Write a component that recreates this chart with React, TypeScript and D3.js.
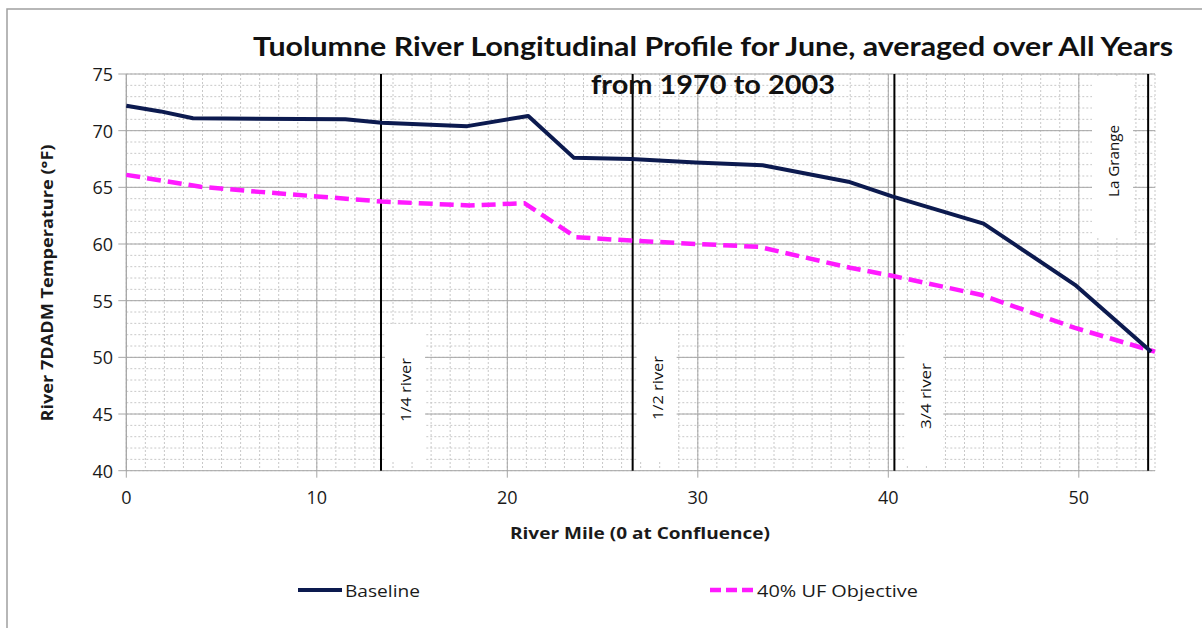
import React from "react";
import * as d3 from "d3";

const titleLines = ["Tuolumne River Longitudinal Profile for June, averaged over All Years", "from 1970 to 2003"];
const xTicks = [0, 10, 20, 30, 40, 50];
const yTicks = [40, 45, 50, 55, 60, 65, 70, 75];

const baselineMiles = [0, 1.8, 3.5, 11.5, 13.4, 17.9, 21.1, 23.5, 26.5, 29.9, 33.4, 37.9, 40.2, 45.0, 49.8, 53.8];
const baselineTemps = [72.2, 71.7, 71.1, 71.0, 70.7, 70.4, 71.3, 67.6, 67.5, 67.2, 66.95, 65.5, 64.2, 61.8, 56.4, 50.5];

const objectiveMiles = [0, 3.9, 7.0, 10.0, 13.4, 18.0, 20.9, 23.6, 26.5, 30.0, 33.2, 38.0, 40.2, 44.9, 49.8, 54.0];
const objectiveTemps = [66.1, 65.05, 64.6, 64.2, 63.75, 63.4, 63.6, 60.6, 60.3, 60.0, 59.75, 57.9, 57.2, 55.5, 52.6, 50.5];

const markerMiles = [13.37, 26.58, 40.32, 53.64];
const markerLabels = ["1/4 river", "1/2 river", "3/4 river", "La Grange"];

const W = 1202, H = 628;
const left = 126.3, right = 1155, top = 74, bottom = 470.7;
const FONT = "'Open Sans', sans-serif";
const TITLE_FONT = "Lato, 'Open Sans', sans-serif";

export default function App() {
  const x = d3.scaleLinear().domain([0, 54]).range([left, right]);
  const y = d3.scaleLinear().domain([40, 75]).range([bottom, top]);
  const line = d3.line<[number, number]>().x(d => x(d[0])).y(d => y(d[1]));
  const basePts = baselineMiles.map((m, i) => [m, baselineTemps[i]] as [number, number]);
  const objPts = objectiveMiles.map((m, i) => [m, objectiveTemps[i]] as [number, number]);
  const minorX = d3.range(0, 55, 1);
  const minorY = d3.range(40, 76, 1);

  const boxes = [
    { x0: x(markerMiles[0]) + 4, x1: x(markerMiles[0]) + 44, y0: 326, y1: 462, tx: 405, ty: 390, len: 64 },
    { x0: x(markerMiles[1]) + 4, x1: x(markerMiles[1]) + 44, y0: 326, y1: 462, tx: 657, ty: 388, len: 64 },
    { x0: x(markerMiles[2]) + 10, x1: x(markerMiles[2]) + 49, y0: 328, y1: 466, tx: 925, ty: 396, len: 66 },
    { x0: 1092, x1: 1133, y0: 77, y1: 236, tx: 1113, ty: 161, len: 72 },
  ];

  return (
    <svg width={W} height={H} style={{ position: "absolute", left: 0, top: 0, background: "#fff" }} fontFamily={FONT}>
      <rect x={0} y={0} width={W} height={H} fill="#fff" />
      <rect x={7} y={9} width={W + 10} height={H} fill="none" stroke="#a0a0a0" strokeWidth={1.5} />

      {minorX.map(v => (
        <line key={"mx" + v} x1={x(v)} x2={x(v)} y1={top} y2={bottom} stroke="#c8c8c8" strokeWidth={1} strokeDasharray="2,2" />
      ))}
      {minorY.map(v => (
        <line key={"my" + v} x1={left} x2={right} y1={y(v)} y2={y(v)} stroke="#c8c8c8" strokeWidth={1} strokeDasharray="2,2" />
      ))}
      {xTicks.map(v => (
        <line key={"gx" + v} x1={x(v)} x2={x(v)} y1={top} y2={bottom + 7} stroke="#a6a6a6" strokeWidth={1} />
      ))}
      {yTicks.map(v => (
        <line key={"gy" + v} x1={left - 8} x2={right} y1={y(v)} y2={y(v)} stroke="#a6a6a6" strokeWidth={1} />
      ))}
      <line x1={left} x2={left} y1={top} y2={bottom} stroke="#a6a6a6" strokeWidth={1} />

      {boxes.map((b, i) => (
        <rect key={"b" + i} x={b.x0} y={b.y0} width={b.x1 - b.x0} height={b.y1 - b.y0} fill="#fff" />
      ))}
      {boxes.map((b, i) => (
        <text key={"bt" + i} transform={`translate(${b.tx},${b.ty}) rotate(-90)`} textAnchor="middle" dominantBaseline="central" fontSize={15} fill="#111" textLength={b.len} lengthAdjust="spacingAndGlyphs">
          {markerLabels[i]}
        </text>
      ))}

      {markerMiles.map((m, i) => (
        <line key={"m" + i} x1={x(m)} x2={x(m)} y1={top} y2={bottom} stroke="#000" strokeWidth={2} />
      ))}

      <path d={line(objPts) || ""} fill="none" stroke="#ff1aff" strokeWidth={4.5} strokeDasharray="14,7" />
      <path d={line(basePts) || ""} fill="none" stroke="#0c1a4f" strokeWidth={4} strokeLinejoin="round" />

      {yTicks.map(v => (
        <text key={"yl" + v} x={113} y={y(v)} textAnchor="end" dominantBaseline="central" fontSize={18} fill="#1a1a1a">{v}</text>
      ))}
      {xTicks.map(v => (
        <text key={"xl" + v} x={x(v)} y={497} textAnchor="middle" dominantBaseline="central" fontSize={18} fill="#1a1a1a">{v}</text>
      ))}

      <text x={640} y={532} textAnchor="middle" dominantBaseline="central" fontSize={16.5} fontWeight="bold" fill="#1a1a1a" textLength={260} lengthAdjust="spacingAndGlyphs">River Mile (0 at Confluence)</text>
      <text transform="translate(46,283) rotate(-90)" textAnchor="middle" dominantBaseline="central" fontSize={16.5} fontWeight="bold" fill="#1a1a1a" textLength={277} lengthAdjust="spacingAndGlyphs">River 7DADM Temperature (°F)</text>

      <text x={713} y={56} textAnchor="middle" fontFamily={TITLE_FONT} fontSize={26} fontWeight="bold" fill="#111" textLength={920} lengthAdjust="spacingAndGlyphs">{titleLines[0]}</text>
      <text x={713} y={94} textAnchor="middle" fontFamily={TITLE_FONT} fontSize={26} fontWeight="bold" fill="#111" textLength={244} lengthAdjust="spacingAndGlyphs">{titleLines[1]}</text>

      <line x1={298} x2={342} y1={590} y2={590} stroke="#0c1a4f" strokeWidth={4} />
      <text x={345} y={590} dominantBaseline="central" fontSize={17} fill="#1a1a1a" textLength={75} lengthAdjust="spacingAndGlyphs">Baseline</text>
      <line x1={710} x2={755} y1={590} y2={590} stroke="#ff1aff" strokeWidth={4.5} strokeDasharray="11,5" />
      <text x={757} y={590} dominantBaseline="central" fontSize={17} fill="#1a1a1a" textLength={161} lengthAdjust="spacingAndGlyphs">40% UF Objective</text>
    </svg>
  );
}
